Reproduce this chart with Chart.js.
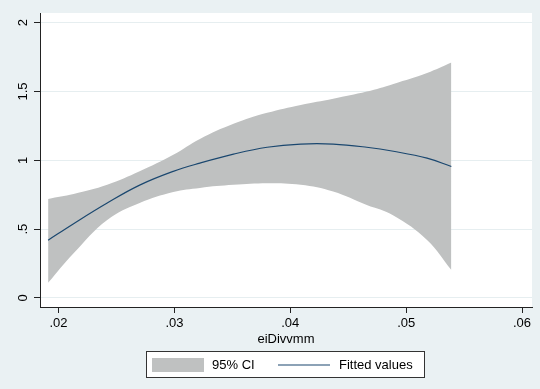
<!DOCTYPE html>
<html>
<head>
<meta charset="utf-8">
<script src="https://cdn.jsdelivr.net/npm/chart.js@4.4.1/dist/chart.umd.min.js"></script>
<style>
  html, body { margin: 0; padding: 0; background: #eaf1f3; }
  #wrap { width: 540px; height: 389px; position: relative; }
</style>
</head>
<body>
<div id="wrap"><canvas id="myChart" width="540" height="389"></canvas></div>
<script>
// x-verdier (eiDivvmm) lest av bildet
const xValues = [0.0191, 0.0213, 0.0242, 0.0270, 0.0299, 0.0322, 0.0351, 0.0380, 0.0409, 0.0437, 0.0466, 0.0489, 0.0518, 0.0539];
// tilpasset linje
const fittedValues = [0.42, 0.54, 0.69, 0.82, 0.92, 0.98, 1.045, 1.095, 1.118, 1.118, 1.095, 1.066, 1.016, 0.955];
// 95% konfidensintervall
const ciUpper = [0.72, 0.755, 0.822, 0.92, 1.04, 1.155, 1.265, 1.345, 1.403, 1.448, 1.50, 1.555, 1.634, 1.71];
const ciLower = [0.11, 0.325, 0.567, 0.69, 0.77, 0.80, 0.822, 0.834, 0.822, 0.773, 0.675, 0.60, 0.422, 0.204];

const xTicks = [0.02, 0.03, 0.04, 0.05, 0.06];
const yTicks = [0, 0.5, 1, 1.5, 2];
const xTitle = 'eiDivvmm';
const legendLabels = ['95% CI', 'Fitted values'];

const ciColor = '#bfc1c1';
const lineColor = '#1a476f';
const fontFamily = "'Liberation Sans', Arial, sans-serif";

// Stata-aktig tallformat: .5 i stedet for 0.5
function stataLabel(v) {
    let s = String(Math.round(v * 1000) / 1000);
    if (s.startsWith('0.')) s = s.substring(1);
    return s;
}

function toPoints(ys) {
    return xValues.map((x, i) => ({ x: x, y: ys[i] }));
}

// Hvit plottflate
const plotBg = {
    id: 'plotBg',
    beforeDraw(chart) {
        const { ctx, chartArea: a } = chart;
        ctx.save();
        ctx.fillStyle = '#eaf1f3';
        ctx.fillRect(0, 0, chart.width, chart.height);
        ctx.fillStyle = '#ffffff';
        ctx.fillRect(a.left, a.top, a.right - a.left, a.bottom - a.top);
        ctx.restore();
    }
};

// Legendeboks nederst
const stataLegend = {
    id: 'stataLegend',
    afterDraw(chart) {
        const ctx = chart.ctx;
        ctx.save();
        ctx.fillStyle = '#ffffff';
        ctx.fillRect(146, 351, 278, 26);
        ctx.strokeStyle = '#333333';
        ctx.lineWidth = 1;
        ctx.strokeRect(146.5, 351.5, 278, 26);

        ctx.fillStyle = ciColor;
        ctx.fillRect(152, 358, 52, 14);

        ctx.strokeStyle = lineColor;
        ctx.lineWidth = 1.2;
        ctx.beginPath();
        ctx.moveTo(278, 365);
        ctx.lineTo(330, 365);
        ctx.stroke();

        ctx.fillStyle = '#000000';
        ctx.font = '13px ' + fontFamily;
        ctx.textBaseline = 'middle';
        ctx.textAlign = 'left';
        ctx.fillText(legendLabels[0], 212, 365);
        ctx.fillText(legendLabels[1], 339, 365);
        ctx.restore();
    }
};

const ctx = document.getElementById('myChart').getContext('2d');

const myChart = new Chart(ctx, {
    type: 'line',
    data: {
        datasets: [
            {
                label: legendLabels[1],
                data: toPoints(fittedValues),
                borderColor: lineColor,
                borderWidth: 1.2,
                pointRadius: 0,
                tension: 0.4,
                fill: false
            },
            {
                label: 'upper',
                data: toPoints(ciUpper),
                borderColor: 'transparent',
                borderWidth: 0,
                pointRadius: 0,
                backgroundColor: ciColor,
                tension: 0.4,
                fill: '+1'
            },
            {
                label: 'lower',
                data: toPoints(ciLower),
                borderColor: 'transparent',
                borderWidth: 0,
                pointRadius: 0,
                tension: 0.4,
                fill: false
            }
        ]
    },
    options: {
        responsive: false,
        animation: false,
        layout: { padding: { left: 0, top: 13, right: 8, bottom: 0 } },
        plugins: {
            legend: { display: false },
            tooltip: { enabled: false }
        },
        scales: {
            x: {
                type: 'linear',
                min: 0.0184,
                max: 0.06086,
                afterBuildTicks: (scale) => { scale.ticks = xTicks.map(v => ({ value: v })); },
                afterFit: (scale) => { scale.height = 82; },
                ticks: {
                    color: '#000',
                    font: { family: fontFamily, size: 13 },
                    padding: 3,
                    maxRotation: 0,
                    callback: (v) => stataLabel(v)
                },
                grid: {
                    drawOnChartArea: false,
                    tickColor: '#222',
                    tickLength: 6
                },
                border: { color: '#222', width: 1 },
                title: {
                    display: true,
                    text: xTitle,
                    color: '#000',
                    font: { family: fontFamily, size: 13 },
                    padding: { top: 0, bottom: 41.6 }
                }
            },
            y: {
                type: 'linear',
                min: -0.0654,
                max: 2.0705,
                afterBuildTicks: (scale) => { scale.ticks = yTicks.map(v => ({ value: v })); },
                afterFit: (scale) => { scale.width = 40; },
                ticks: {
                    color: '#000',
                    font: { family: fontFamily, size: 13 },
                    padding: 2,
                    minRotation: 90,
                    maxRotation: 90,
                    crossAlign: 'center',
                    callback: (v) => stataLabel(v)
                },
                grid: {
                    color: '#e6eef0',
                    lineWidth: 1,
                    tickColor: '#222',
                    tickLength: 6
                },
                border: { color: '#222', width: 1 }
            }
        }
    },
    plugins: [plotBg, stataLegend]
});
</script>
</body>
</html>
